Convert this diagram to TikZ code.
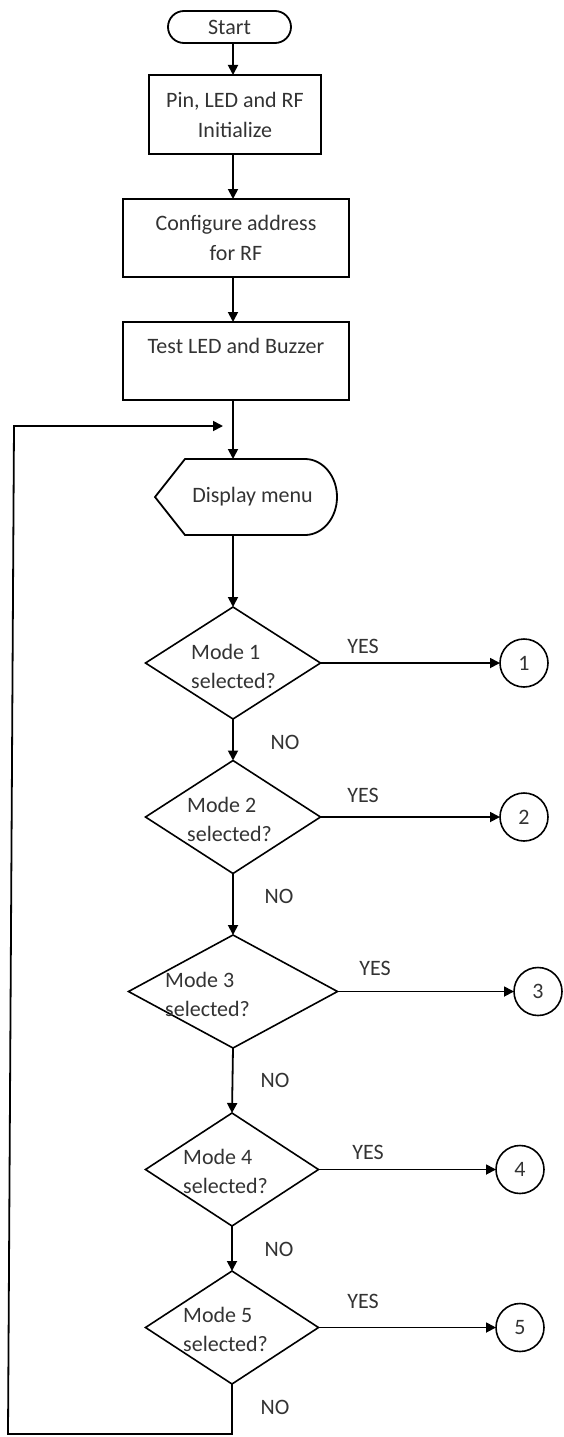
\documentclass[tikz,border=0pt]{standalone}
\usepackage{fontspec}
\setmainfont{Carlito}
\usetikzlibrary{shapes.geometric,arrows.meta}
\begin{document}
\begin{tikzpicture}[x=1pt,y=-1pt,
  every node/.style={font=\fontsize{22}{30}\selectfont, text=black!80},
  term/.style={draw=black, line width=1.8pt, rectangle, rounded corners=16pt,
    minimum width=123pt, minimum height=32pt, inner sep=0pt, outer sep=0pt},
  proc/.style={draw=black, line width=1.8pt, rectangle, inner sep=0pt, outer sep=0pt, align=center},
  dec/.style={draw=black, line width=1.6pt, diamond, inner sep=0pt, outer sep=0pt},
  qtext/.style={anchor=west, align=left, inner sep=0pt, font=\fontsize{22}{29}\selectfont},
  conn/.style={draw=black, line width=1.6pt, circle, minimum size=48pt, inner sep=0pt, outer sep=0pt},
  flow/.style={line width=1.8pt, draw=black, -{Triangle[length=10pt,width=10pt]}},
  line/.style={line width=1.8pt, draw=black}
]
\useasboundingbox (0,0) rectangle (563,1437);

% process chain
\node[term] (start) at (229.5,27) {Start};
\node[proc, minimum width=172pt, minimum height=79pt] (init) at (235,114.5) {Pin, LED and RF\\Initialize};
\node[proc, minimum width=226pt, minimum height=78pt] (cfg) at (236,238) {Configure address\\for RF};
\node[proc, minimum width=226pt, minimum height=78pt] (test) at (236,361) {Test LED and Buzzer\\\mbox{}};

% display symbol
\node[minimum width=182pt, minimum height=76pt, inner sep=0pt, outer sep=0pt] (disp) at (246,497) {\hspace*{13pt}Display menu};
\draw[line] (disp.west) -- ([xshift=30pt]disp.north west) -- ([xshift=-32pt]disp.north east)
  arc[start angle=90, end angle=-90, x radius=32pt, y radius=38pt]
  -- ([xshift=30pt]disp.south west) -- cycle;

% decisions
\node[dec, minimum width=175pt, minimum height=112pt] (d1) at (233,663) {};
\node[dec, minimum width=175pt, minimum height=113pt] (d2) at (233,817) {};
\node[dec, minimum width=209pt, minimum height=113pt] (d3) at (233,991.5) {};
\node[dec, minimum width=173pt, minimum height=113pt] (d4) at (232,1169.5) {};
\node[dec, minimum width=173pt, minimum height=113pt] (d5) at (232,1327.5) {};

\node[qtext] (q1) at (191,666.5) {Mode 1\\selected?};
\node[qtext] (q2) at (187,819) {Mode 2\\selected?};
\node[qtext] (q3) at (165,994) {Mode 3\\selected?};
\node[qtext] (q4) at (183,1171) {Mode 4\\selected?};
\node[qtext] (q5) at (183,1329) {Mode 5\\selected?};

% connectors to the mode routines
\node[conn] (c1) at (524,663) {1};
\node[conn] (c2) at (524,817) {2};
\node[conn] (c3) at (538,991.5) {3};
\node[conn] (c4) at (520,1169.5) {4};
\node[conn] (c5) at (520,1327.5) {5};

% main flow
\draw[flow] (start.south -| d1.north) -- (init.north -| d1.north);
\draw[flow] (init.south -| d1.north) -- (cfg.north -| d1.north);
\draw[flow] (cfg.south -| d1.north) -- (test.north -| d1.north);
\draw[flow] (test.south -| d1.north) -- (disp.north -| d1.north);
\draw[flow] (disp.south -| d1.north) -- (d1.north);
\draw[flow] (d1.south) -- (d2.north);
\draw[flow] (d2.south) -- (d3.north);
\draw[flow] (d3.south) -- (d4.north);
\draw[flow] (d4.south) -- (d5.north);

% yes branches
\draw[flow] (d1.east) -- (c1.west);
\draw[flow] (d2.east) -- (c2.west);
\draw[flow] (d3.east) -- (c3.west);
\draw[flow] (d4.east) -- (c4.west);
\draw[flow] (d5.east) -- (c5.west);

\node (y1) at (363,646) {YES};
\node (y2) at (363,795) {YES};
\node (y3) at (375,968) {YES};
\node (y4) at (368,1152) {YES};
\node (y5) at (363,1301) {YES};

\node (n1) at (285,742) {NO};
\node (n2) at (279,896) {NO};
\node (n3) at (275,1080) {NO};
\node (n4) at (279,1249) {NO};
\node (n5) at (275,1407) {NO};

% return loop to the menu
\coordinate (lb) at (8,1434);
\coordinate (lt) at (14,426);
\coordinate (loopin) at (223,426);
\draw[flow] (d5.south) |- (lb) -- (lt) -- (loopin);
\end{tikzpicture}
\end{document}
